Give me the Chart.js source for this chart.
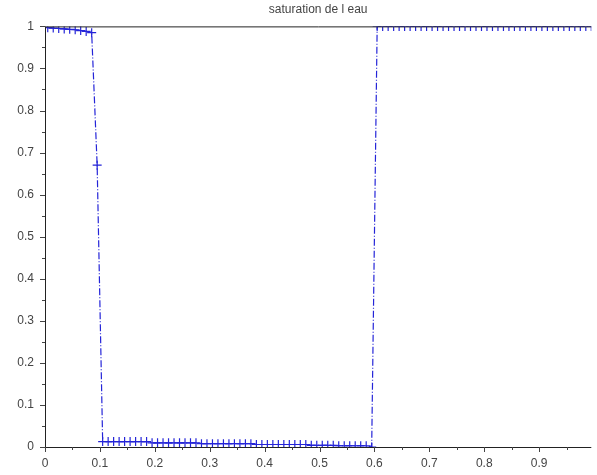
<!DOCTYPE html>
<html><head><meta charset="utf-8">
<script src="https://cdn.jsdelivr.net/npm/chart.js@4"></script>
<style>html,body{margin:0;padding:0;background:#fff}#c{display:block}</style>
</head><body>
<div style="width:597px;height:475px"><canvas id="c" width="597" height="475"></canvas></div>
<script>
const title = "saturation de l eau";
const xValues = [0.005,0.015,0.025,0.035,0.045,0.055,0.065,0.075,0.085,0.095,
 0.105,0.115,0.125,0.135,0.145,0.155,0.165,0.175,0.185,0.195,
 0.205,0.215,0.225,0.235,0.245,0.255,0.265,0.275,0.285,0.295,
 0.305,0.315,0.325,0.335,0.345,0.355,0.365,0.375,0.385,0.395,
 0.405,0.415,0.425,0.435,0.445,0.455,0.465,0.475,0.485,0.495,
 0.505,0.515,0.525,0.535,0.545,0.555,0.565,0.575,0.585,0.595,
 0.605,0.615,0.625,0.635,0.645,0.655,0.665,0.675,0.685,0.695,
 0.705,0.715,0.725,0.735,0.745,0.755,0.765,0.775,0.785,0.795,
 0.805,0.815,0.825,0.835,0.845,0.855,0.865,0.875,0.885,0.895,
 0.905,0.915,0.925,0.935,0.945,0.955,0.965,0.975,0.985,0.995];
const saturation = [0.997,0.996,0.995,0.994,0.993,0.992,0.990,0.988,0.985,0.670,
 0.013,0.013,0.013,0.013,0.013,0.013,0.013,0.013,0.013,0.010,
 0.010,0.010,0.010,0.010,0.010,0.010,0.010,0.010,0.008,0.008,
 0.008,0.008,0.008,0.008,0.008,0.008,0.008,0.008,0.006,0.006,
 0.006,0.006,0.006,0.006,0.006,0.006,0.006,0.006,0.004,0.004,
 0.004,0.004,0.004,0.003,0.003,0.003,0.003,0.003,0.003,0.000,
 1,1,1,1,1,1,1,1,1,1,
 1,1,1,1,1,1,1,1,1,1,
 1,1,1,1,1,1,1,1,1,1,
 1,1,1,1,1,1,1,1,1,1];
const xTicks = [0,0.1,0.2,0.3,0.4,0.5,0.6,0.7,0.8,0.9];
const yTicks = [0,0.1,0.2,0.3,0.4,0.5,0.6,0.7,0.8,0.9,1];
const xMax = 0.995;

const boxPlugin = {
  id: 'box',
  afterDraw(chart) {
    const {ctx, chartArea: a, scales: {x, y}} = chart;
    ctx.save();
    ctx.strokeStyle = '#222';
    ctx.lineWidth = 1;
    ctx.beginPath();
    ctx.moveTo(a.left + 0.5, a.bottom + 0.5); ctx.lineTo(a.right, a.bottom + 0.5);
    ctx.moveTo(a.left + 0.5, a.top + 0.5); ctx.lineTo(a.right, a.top + 0.5);
    ctx.moveTo(a.left + 0.5, a.top); ctx.lineTo(a.left + 0.5, a.bottom + 1);
    ctx.stroke();
    ctx.strokeStyle = '#444';
    ctx.beginPath();
    for (let v = 0; v <= xMax + 1e-9; v += 0.05) {
      const px = Math.round(x.getPixelForValue(v)) + 0.5;
      const major = Math.abs(v * 10 - Math.round(v * 10)) < 1e-6;
      ctx.moveTo(px, a.bottom); ctx.lineTo(px, a.bottom + (major ? 5 : 3));
    }
    for (let v = 0; v <= 1 + 1e-9; v += 0.05) {
      const py = Math.round(y.getPixelForValue(v)) + 0.5;
      const major = Math.abs(v * 10 - Math.round(v * 10)) < 1e-6;
      ctx.moveTo(a.left, py); ctx.lineTo(a.left - (major ? 5 : 3), py);
    }
    ctx.stroke();
    ctx.restore();
  }
};

new Chart(document.getElementById('c'), {
  type: 'line',
  data: {
    datasets: [{
      data: xValues.map((v, i) => ({x: v, y: saturation[i]})),
      borderColor: '#2424d8',
      borderWidth: 1.2,
      borderDash: [7, 2, 1, 2],
      pointStyle: 'cross',
      pointRadius: 4.5,
      pointBorderWidth: 1.2,
      pointBorderColor: '#2424d8',
      tension: 0,
      fill: false,
      clip: 0
    }]
  },
  options: {
    responsive: false,
    animation: false,
    layout: {padding: {top: 0, right: 0, left: 0, bottom: 0}},
    plugins: {
      legend: {display: false},
      tooltip: {enabled: false},
      title: {display: true, text: title, color: '#444', fullSize: false,
        font: {family: 'Liberation Sans', size: 12, weight: 'normal'}, padding: {top: 2, bottom: 10}}
    },
    scales: {
      x: {
        type: 'linear', min: 0, max: xMax,
        afterBuildTicks: s => { s.ticks = xTicks.map(v => ({value: v})); },
        afterFit: s => { s.height = 28; },
        grid: {display: false, drawTicks: false},
        border: {display: false},
        ticks: {color: '#444', padding: 9, maxRotation: 0, autoSkip: false,
          font: {family: 'Liberation Sans', size: 12},
          callback: v => String(Math.round(v * 10) / 10)}
      },
      y: {
        type: 'linear', min: 0, max: 1,
        afterBuildTicks: s => { s.ticks = yTicks.map(v => ({value: v})); },
        afterFit: s => { s.width = 45; },
        grid: {display: false, drawTicks: false},
        border: {display: false},
        ticks: {color: '#444', padding: 11, autoSkip: false,
          font: {family: 'Liberation Sans', size: 12},
          callback: v => String(Math.round(v * 10) / 10)}
      }
    }
  },
  plugins: [boxPlugin]
});
</script>
</body></html>
